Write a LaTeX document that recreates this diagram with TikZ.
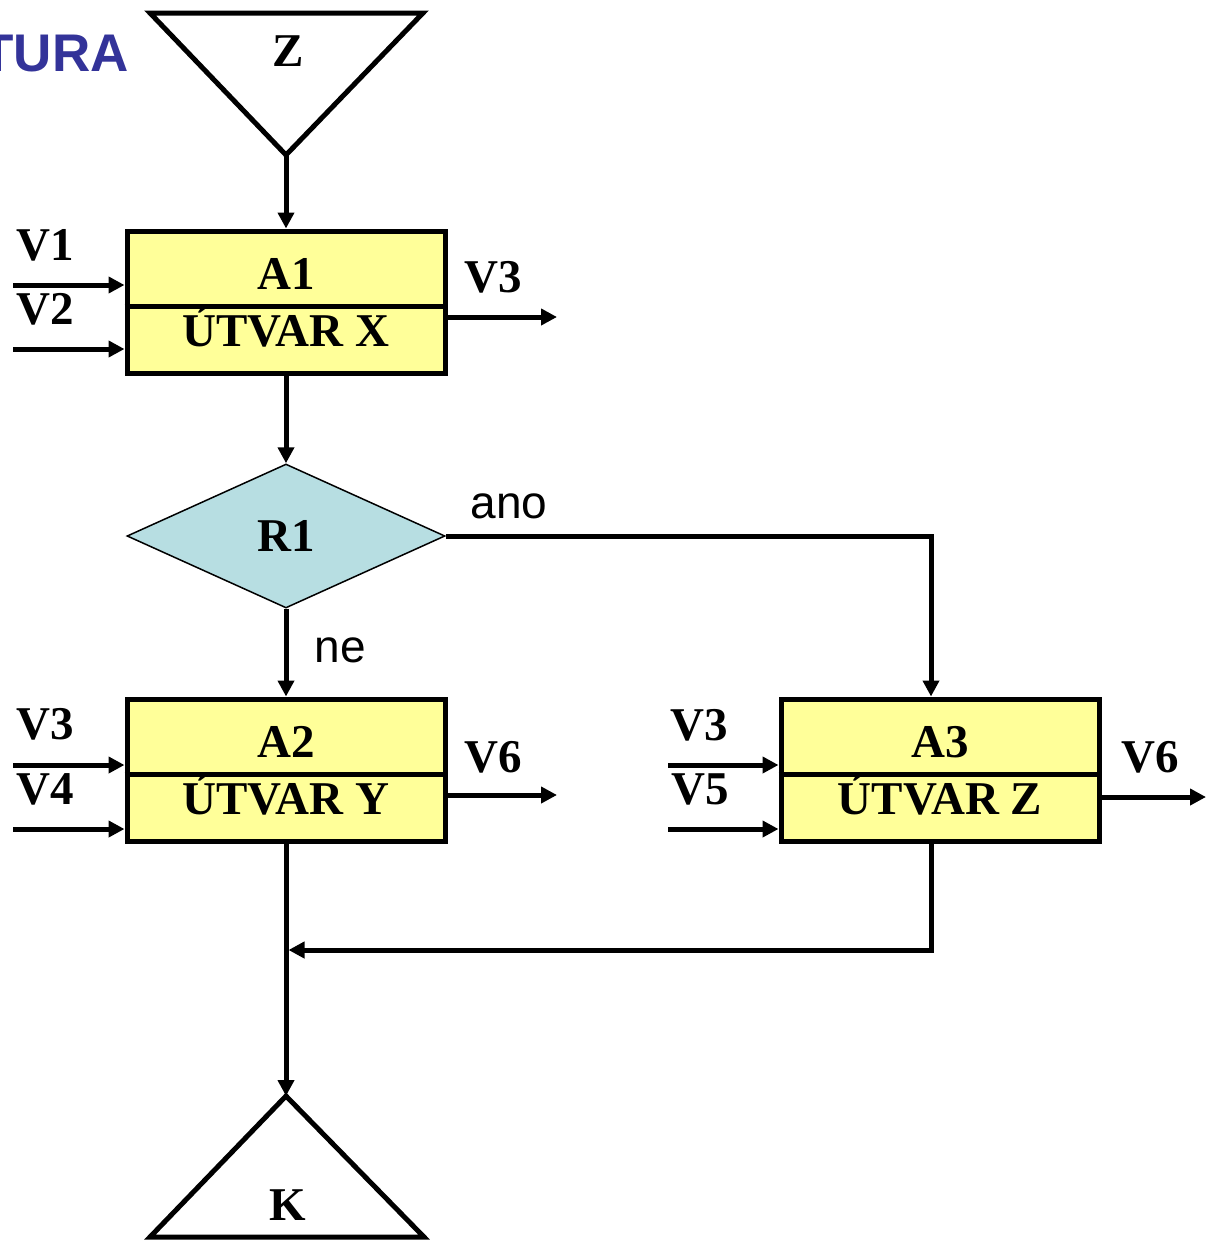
\documentclass[tikz,border=0pt]{standalone}
\usepackage{fontspec}
\setmainfont{Liberation Serif}
\newfontfamily\arialfont{Liberation Sans}
\usepackage{tikz}
\usetikzlibrary{arrows.meta,positioning,calc,shapes.geometric}
\definecolor{boxyellow}{RGB}{255,255,153}
\definecolor{decblue}{RGB}{183,222,226}
\definecolor{titleblue}{RGB}{51,51,153}

\begin{document}
\begin{tikzpicture}[
  x=1pt, y=-1pt,
  box/.style={rectangle, draw, line width=5pt, fill=boxyellow,
              minimum width=318pt, minimum height=142pt, inner sep=0pt},
  decision/.style={diamond, draw, line width=1.5pt, fill=decblue, aspect=2.2,
              minimum width=318pt, minimum height=144pt, inner sep=0pt,
              font=\fontsize{47}{50}\selectfont\bfseries},
  lbl/.style={font=\fontsize{47}{50}\selectfont\bfseries, inner sep=0pt},
  sanslbl/.style={font=\arialfont\fontsize{46}{50}\selectfont, inner sep=0pt},
  term/.style={draw, line width=5pt, line join=miter},
  conn/.style={line width=5pt},
  arr/.style={-{Triangle[length=16pt,width=16pt]}, line width=5pt},
]
\useasboundingbox (0,0) rectangle (1206,1242);

% Title (cut off)
\node[font=\arialfont\bfseries\fontsize{53}{56}\selectfont, text=titleblue,
  anchor=east, inner sep=0pt] (title) at (129,54) {TURA};

% Start
\coordinate (zapex) at (286,155);
\draw[term] (150,13) -- (423,13) -- (zapex) -- cycle;
\node[lbl] (ztxt) at (288,51) {Z};

% Activity A1
\node[box] (a1) at (286,302) {};
\draw[conn] ($(a1.north west)!0.53!(a1.south west)$) -- ($(a1.north east)!0.53!(a1.south east)$);
\node[lbl] (a1top) at (286,274) {A1};
\node[lbl] (a1bot) at (286,327) {ÚTVAR X};

% Decision
\node[decision] (r1) at (286,536) {R1};

% Activity A2
\node[box] (a2) at (286,770) {};
\draw[conn] ($(a2.north west)!0.53!(a2.south west)$) -- ($(a2.north east)!0.53!(a2.south east)$);
\node[lbl] (a2top) at (286,742) {A2};
\node[lbl] (a2bot) at (286,795) {ÚTVAR Y};

% Activity A3
\node[box] (a3) at (940,770) {};
\draw[conn] ($(a3.north west)!0.53!(a3.south west)$) -- ($(a3.north east)!0.53!(a3.south east)$);
\node[lbl] (a3top) at (940,742) {A3};
\node[lbl] (a3bot) at (940,795) {ÚTVAR Z};

% End
\coordinate (kapex) at (286,1096);
\draw[term] (kapex) -- (424,1237) -- (150,1237) -- cycle;
\node[lbl] (ktxt) at (288,1205) {K};

% Inputs and outputs
\coordinate (v1in) at (13,285);
\coordinate (v2in) at (13,349);
\coordinate (v3out) at (557,317);
\coordinate (v3in) at (13,765);
\coordinate (v4in) at (13,829);
\coordinate (v6out) at (557,795);
\coordinate (v3inz) at (668,765);
\coordinate (v5in) at (668,829);
\coordinate (v6outz) at (1206,797);
\draw[arr] (v1in) -- (v1in -| a1.west);
\draw[arr] (v2in) -- (v2in -| a1.west);
\draw[arr] (v3out -| a1.east) -- (v3out);
\draw[arr] (v3in) -- (v3in -| a2.west);
\draw[arr] (v4in) -- (v4in -| a2.west);
\draw[arr] (v6out -| a2.east) -- (v6out);
\draw[arr] (v3inz) -- (v3inz -| a3.west);
\draw[arr] (v5in) -- (v5in -| a3.west);
\draw[arr] (v6outz -| a3.east) -- (v6outz);

\node[lbl] (v1) at (45,245) {V1};
\node[lbl] (v2) at (45,309) {V2};
\node[lbl] (v3a) at (493,277) {V3};
\node[lbl] (v3b) at (45,724) {V3};
\node[lbl] (v4) at (45,789) {V4};
\node[lbl] (v6a) at (493,757) {V6};
\node[lbl] (v3c) at (699,725) {V3};
\node[lbl] (v5) at (700,789) {V5};
\node[lbl] (v6b) at (1150,757) {V6};

% Flow
\draw[arr] (zapex) -- (a1.north);
\draw[arr] (a1.south) -- (r1.north);
\draw[arr] (r1.south) -- node[sanslbl, right=26pt, pos=0.47] (ne) {ne} (a2.north);
\draw[arr] (r1.east) -| ([xshift=-9pt]a3.north);
\node[sanslbl] (ano) at (509,506) {ano};
\coordinate (merge) at (288.5,950);
\draw[arr] ([xshift=-9pt]a3.south) |- (merge);
\draw[arr] (a2.south) -- (kapex);

\end{tikzpicture}
\end{document}
